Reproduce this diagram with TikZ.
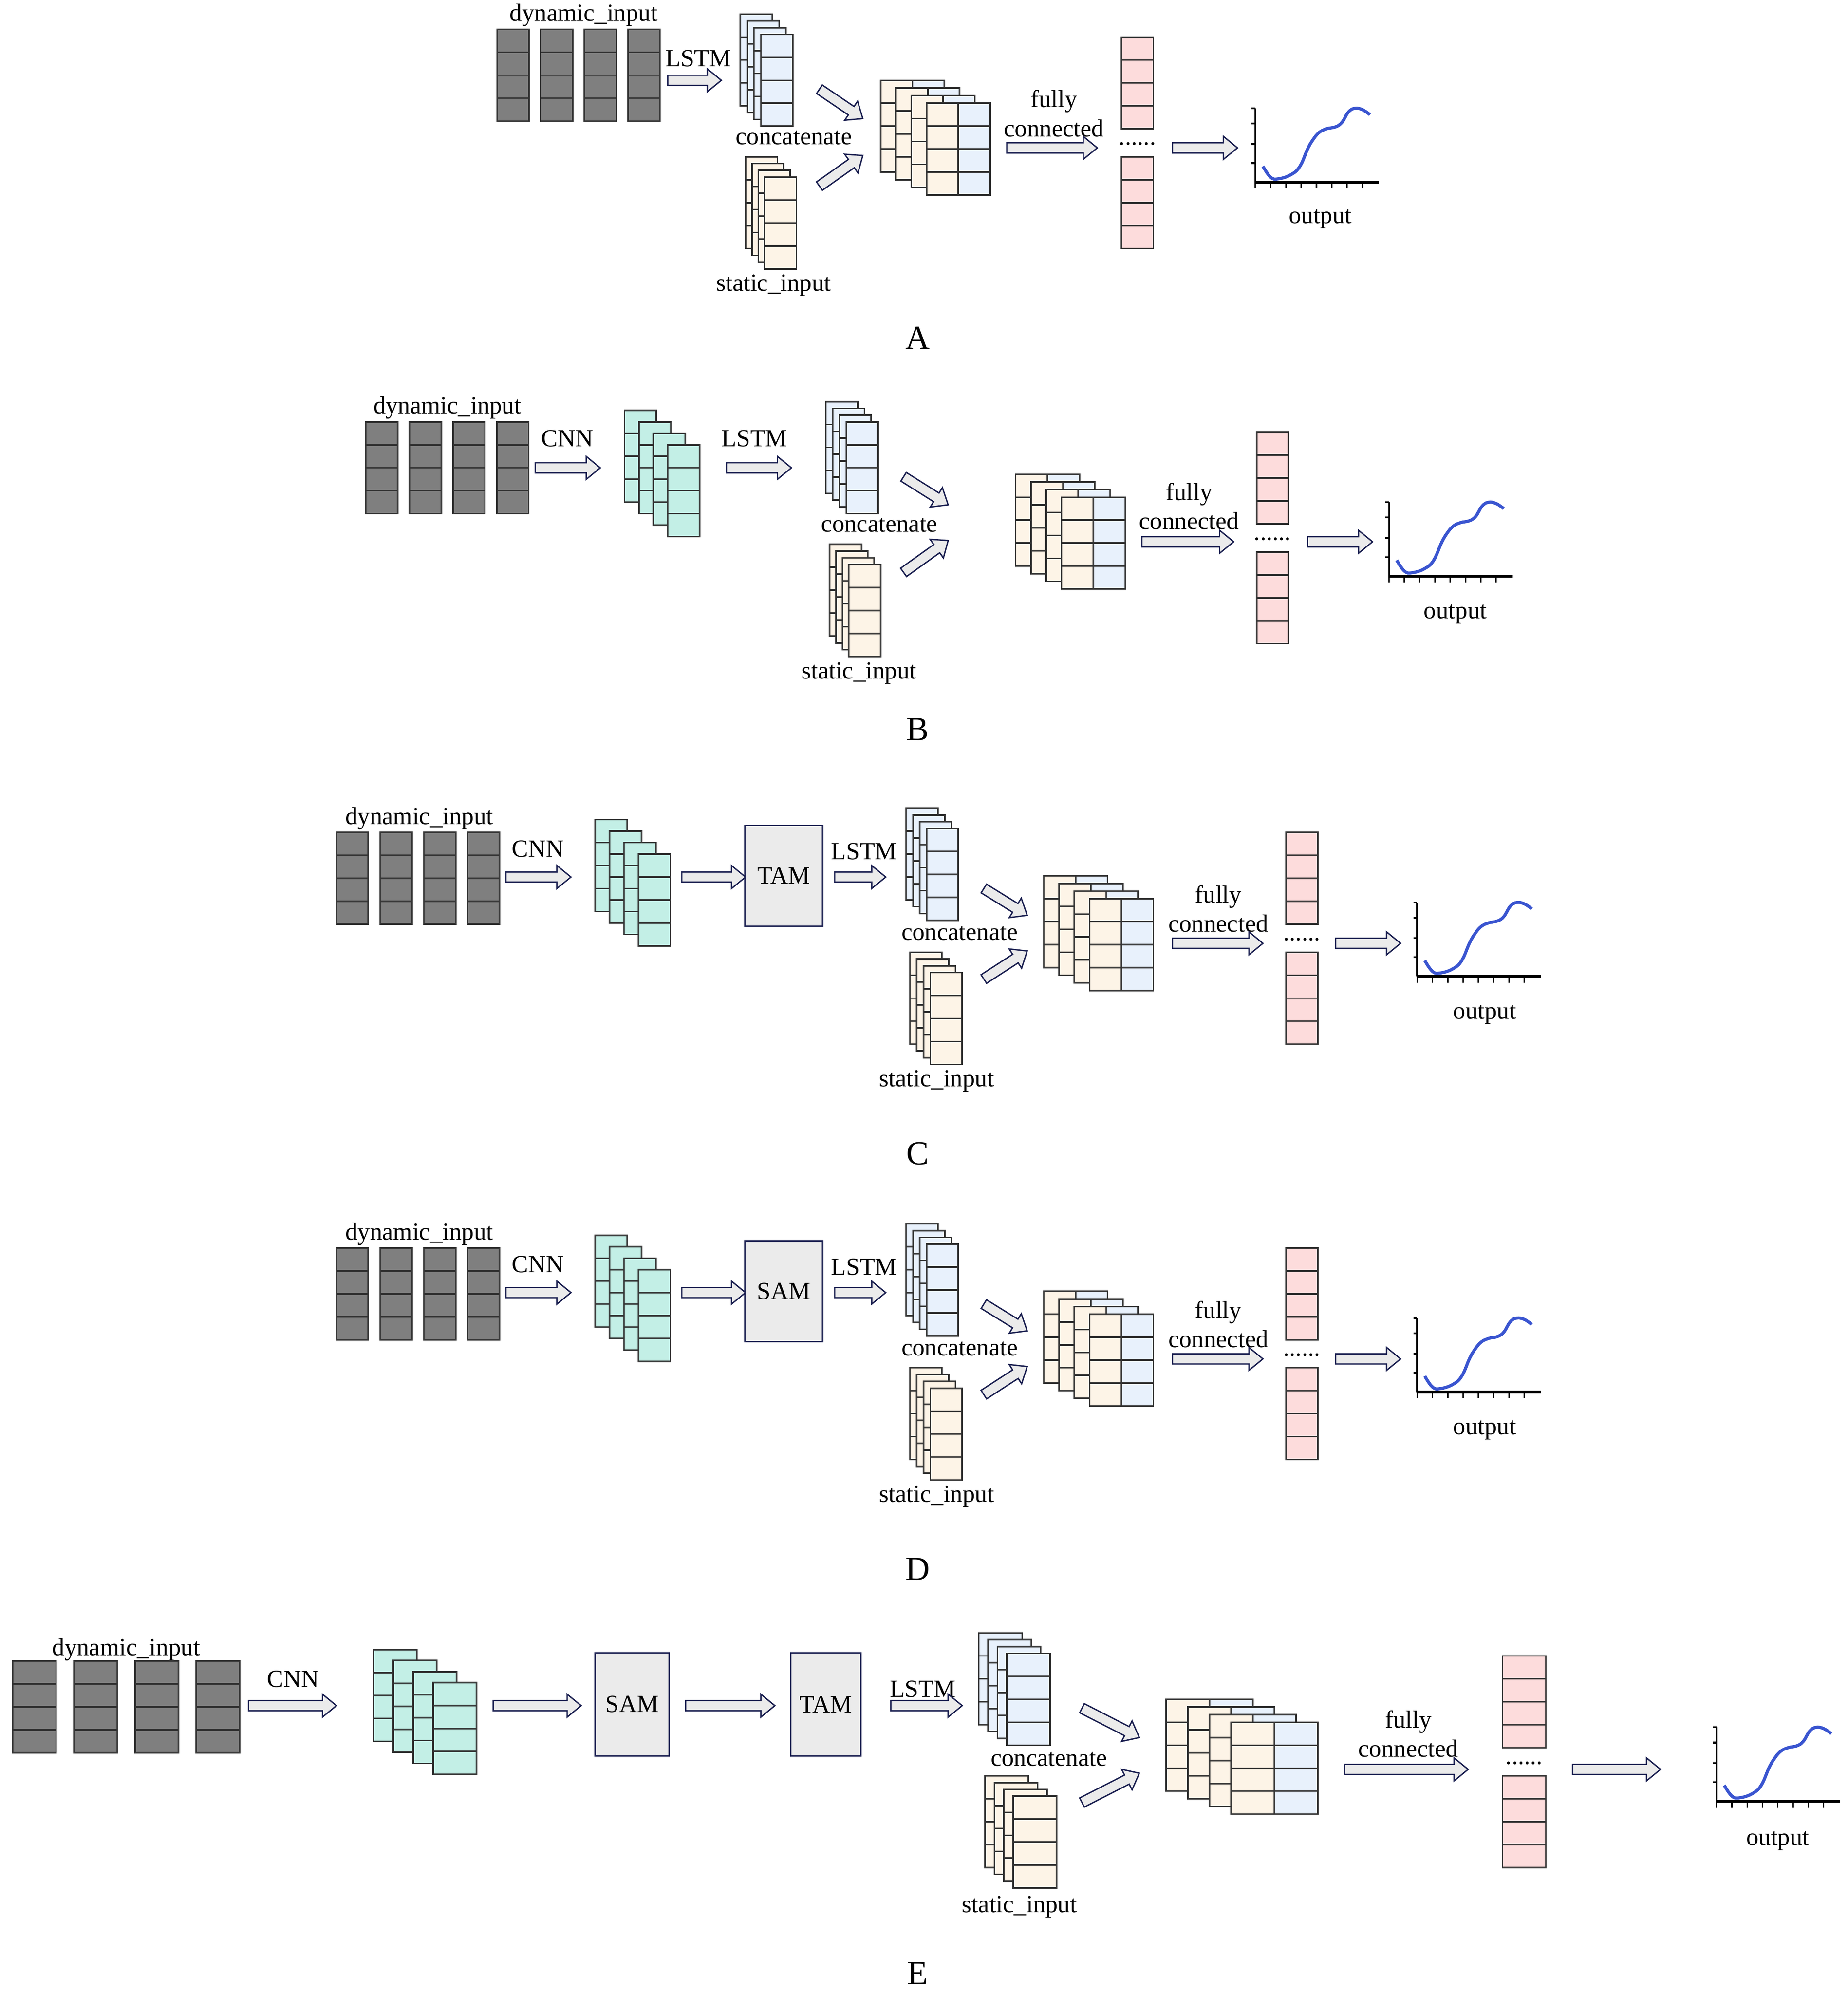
\documentclass[tikz,border=0pt]{standalone}
\usepackage{fontspec}
\setmainfont{Liberation Serif}
\usetikzlibrary{calc}

\definecolor{dyngray}{HTML}{7F7F7F}
\definecolor{lstmblue}{HTML}{E8F1FC}
\definecolor{statcream}{HTML}{FDF4E7}
\definecolor{cnngreen}{HTML}{C3EFE6}
\definecolor{fcpink}{HTML}{FDDCDC}
\definecolor{arrnavy}{HTML}{1A1F50}
\definecolor{curveblue}{HTML}{3A55D0}

\tikzset{
 cell/.style={draw=black!80, line width=0.7pt},
 blockarr/.style={draw=arrnavy, fill=black!8, line width=0.6pt, line join=miter},
 lbl/.style={font=\fontsize{11}{13}\selectfont, inner sep=0pt},
 panel/.style={font=\fontsize{15}{17}\selectfont, inner sep=0pt},
 modbox/.style={draw=arrnavy, fill=black!8, line width=0.6pt, font=\fontsize{11}{13}\selectfont},
}

% one column of four cells: x, y (top), width, fill
\newcommand{\gridcol}[4]{%
 \draw[cell, fill=#4] (#1,#2) rectangle ++(#3,72);
 \foreach \k in {1,2,3} \draw[cell] (#1,#2+\k*18) -- ++(#3,0);
}
% four layered columns: back x,y, front x,y, width, fill
\newcommand{\layerstack}[6]{%
 \foreach \i in {0,...,3}{%
  \pgfmathsetmacro\lx{#1+\i*(#3-#1)/3}%
  \pgfmathsetmacro\ly{#2+\i*(#4-#2)/3}%
  \gridcol{\lx}{\ly}{#5}{#6}}%
}
% concatenated layers (cream + blue)
\newcommand{\catblock}[5]{%
 \foreach \i in {0,...,3}{%
  \pgfmathsetmacro\lx{#1+\i*(#3-#1)/3}%
  \pgfmathsetmacro\ly{#2+\i*(#4-#2)/3}%
  \pgfmathsetmacro\lxb{\lx+#5}%
  \gridcol{\lx}{\ly}{#5}{statcream}%
  \gridcol{\lxb}{\ly}{#5}{lstmblue}}%
}
% dynamic input: x, y, width, spacing
\newcommand{\dynin}[4]{%
 \foreach \i in {0,...,3}{%
  \pgfmathsetmacro\lx{#1+\i*#4}%
  \gridcol{\lx}{#2}{#3}{dyngray}}%
}
% fully connected pair: x, y top, y bottom, width
\newcommand{\fcpair}[4]{%
 \gridcol{#1}{#2}{#4}{fcpink}%
 \gridcol{#1}{#3}{#4}{fcpink}%
 \node[lbl] at (#1+#4/2,#3-10) {......};
}
% hollow block arrow between two points
\newcommand{\blockarrow}[2]{%
 \coordinate (bs) at (#1); \coordinate (be) at (#2);
 \coordinate (bh) at ($(be)!2.2mm!(bs)$);
 \draw[blockarr] ($(bs)!0.8mm!90:(be)$) -- ($(bh)!0.8mm!-90:(bs)$)
  -- ($(bh)!1.8mm!-90:(bs)$) -- (be) -- ($(bh)!1.8mm!90:(bs)$)
  -- ($(bh)!0.8mm!90:(bs)$) -- ($(bs)!0.8mm!-90:(be)$) -- cycle;
}
% output plot at axis origin
\newcommand{\outplot}[2]{%
 \begin{scope}[shift={(#1,#2)}]
  \draw[line width=1.2pt] (0,0) -- (97,0);
  \draw[line width=0.8pt] (0,0) -- (0,-58);
  \foreach \t in {15,30,46,58} \draw[line width=0.8pt] (0,-\t) -- (-3,-\t);
  \foreach \t in {0,12,...,84} \draw[line width=0.6pt] (\t,0) -- (\t,5);
  \draw[curveblue, line width=1.4pt] plot[smooth, tension=0.7] coordinates
   {(6,-12.5) (12,-4) (18,-2.7) (28,-6) (35,-12.5) (41,-26) (45,-33) (50,-39) (56,-42) (63,-43.5) (68,-47) (73,-55) (78,-58) (84,-57) (90,-53)};
 \end{scope}
}

\begin{document}
\begin{tikzpicture}[x=0.02cm, y=-0.02cm]
 \useasboundingbox (0,0) rectangle (1450,1565);

 %% A
 \node[lbl] (dynA) at (458,12) {dynamic\_input};
 \dynin{390}{23}{25}{34.3}
 \node[lbl] (lstmA) at (548,46) {LSTM};
 \blockarrow{524,63}{566,63}
 \layerstack{581}{11}{597}{27}{25}{lstmblue}
 \node[lbl] (catA) at (623,108) {concatenate};
 \blockarrow{643,70}{677,93}
 \blockarrow{643,146}{677,122}
 \layerstack{585}{123}{600}{139}{25}{statcream}
 \node[lbl] (statA) at (607,224) {static\_input};
 \catblock{691}{63}{727}{81}{25}
 \node[lbl] (fcA) at (827,89) {\shortstack{fully\\connected}};
 \blockarrow{790,116}{861,116}
 \fcpair{880}{29}{123}{25}
 \blockarrow{920,116}{971,116}
 \outplot{985}{143}
 \node[lbl] (outA) at (1036,172) {output};
 \node[panel] (pA) at (720,265) {A};

 %% B
 \node[lbl] (dynB) at (351,320) {dynamic\_input};
 \dynin{287}{331}{25}{34.3}
 \node[lbl] (cnnB) at (445,344) {CNN};
 \blockarrow{420,367}{471,367}
 \layerstack{490}{322}{524}{349}{25}{cnngreen}
 \node[lbl] (lstmB) at (592,344) {LSTM};
 \blockarrow{570,367}{621,367}
 \layerstack{648}{315}{664}{331}{25}{lstmblue}
 \node[lbl] (catB) at (690,412) {concatenate};
 \blockarrow{709,374}{744,396}
 \blockarrow{709,449}{744,424}
 \layerstack{651}{427}{666}{443}{25}{statcream}
 \node[lbl] (statB) at (674,528) {static\_input};
 \catblock{797}{372}{833}{390}{25}
 \node[lbl] (fcB) at (933,397) {\shortstack{fully\\connected}};
 \blockarrow{896,425}{968,425}
 \fcpair{986}{339}{433}{25}
 \blockarrow{1026,425}{1077,425}
 \outplot{1090}{452}
 \node[lbl] (outB) at (1142,482) {output};
 \node[panel] (pB) at (720,572) {B};

 %% C and D
 \foreach \dy/\modname/\pn in {0/TAM/C, 326/SAM/D}{
  \begin{scope}[shift={(0,\dy)}]
   \node[lbl] (dyn\pn) at (329,642) {dynamic\_input};
   \dynin{264}{653}{25}{34.3}
   \node[lbl] (cnn\pn) at (422,666) {CNN};
   \blockarrow{397,688}{448,688}
   \layerstack{467}{643}{501}{670}{25}{cnngreen}
   \blockarrow{535,688}{585,688}
   \node[modbox, minimum width=12.2mm, minimum height=15.8mm] (mod\pn) at (615,687) {\modname};
   \node[lbl] (lstm\pn) at (678,668) {LSTM};
   \blockarrow{655,688}{695,688}
   \layerstack{711}{634}{727}{650}{25}{lstmblue}
   \node[lbl] (cat\pn) at (753,732) {concatenate};
   \blockarrow{772,697}{806,718}
   \blockarrow{772,768}{806,746}
   \layerstack{714}{747}{730}{763}{25}{statcream}
   \node[lbl] (stat\pn) at (735,848) {static\_input};
   \catblock{819}{687}{855}{705}{25}
   \node[lbl] (fc\pn) at (956,713) {\shortstack{fully\\connected}};
   \blockarrow{920,740}{991,740}
   \fcpair{1009}{653}{747}{25}
   \blockarrow{1048,740}{1099,740}
   \outplot{1112}{766}
   \node[lbl] (out\pn) at (1165,796) {output};
   \node[panel] (p\pn) at (720,905) {\pn};
  \end{scope}
 }

 %% E
 \node[lbl] (dynE) at (99,1294) {dynamic\_input};
 \dynin{10}{1303}{34}{48}
 \node[lbl] (cnnE) at (230,1317) {CNN};
 \blockarrow{195,1338}{264,1338}
 \layerstack{293}{1294}{340}{1320}{34}{cnngreen}
 \blockarrow{387,1338}{456,1338}
 \node[modbox, minimum width=11.6mm, minimum height=16.2mm] (samE) at (496,1337) {SAM};
 \blockarrow{538,1338}{608,1338}
 \node[modbox, minimum width=11mm, minimum height=16.2mm] (tamE) at (648,1337) {TAM};
 \node[lbl] (lstmE) at (724,1325) {LSTM};
 \blockarrow{699,1338}{755,1338}
 \layerstack{768}{1281}{790}{1297}{34}{lstmblue}
 \node[lbl] (catE) at (823,1380) {concatenate};
 \blockarrow{849,1340}{894,1363}
 \blockarrow{849,1414}{894,1391}
 \layerstack{773}{1393}{795}{1409}{34}{statcream}
 \node[lbl] (statE) at (800,1496) {static\_input};
 \catblock{915}{1333}{966}{1351}{34}
 \node[lbl] (fcE) at (1105,1360) {\shortstack{fully\\connected}};
 \blockarrow{1055,1388}{1152,1388}
 \fcpair{1179}{1299}{1393}{34}
 \blockarrow{1234,1388}{1303,1388}
 \outplot{1347}{1413}
 \node[lbl] (outE) at (1395,1444) {output};
 \node[panel] (pE) at (720,1548) {E};
\end{tikzpicture}
\end{document}
